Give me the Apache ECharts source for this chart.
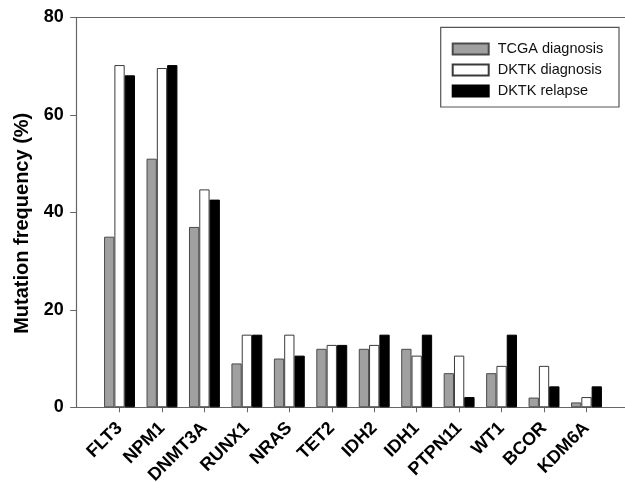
<!DOCTYPE html>
<html>
<head>
<meta charset="utf-8">
<script src="https://cdn.jsdelivr.net/npm/echarts@6/dist/echarts.min.js"></script>
<style>
html,body{margin:0;padding:0;background:#fff;}
#chart{width:625px;height:482px;}
</style>
</head>
<body>
<div id="chart"></div>
<script>
var genes = ['FLT3','NPM1','DNMT3A','RUNX1','NRAS','TET2','IDH2','IDH1','PTPN11','WT1','BCOR','KDM6A'];
var tcgaDiagnosis = [35, 51, 37, 9, 10, 12, 12, 12, 7, 7, 2, 1];
var dktkDiagnosis = [70.2, 69.6, 44.7, 14.9, 14.9, 12.8, 12.8, 10.6, 10.6, 8.5, 8.5, 2.1];
var dktkRelapse = [68.1, 70.2, 42.6, 14.9, 10.6, 12.8, 14.9, 14.9, 2.1, 14.9, 4.3, 4.3];
var yTicks = [0, 20, 40, 60, 80];
var seriesNames = ['TCGA diagnosis', 'DKTK diagnosis', 'DKTK relapse'];

var font = '"Liberation Sans", Arial, Helvetica, sans-serif';
var axisColor = '#666';
var chart = echarts.init(document.getElementById('chart'));
var gridTop = 17.3, gridBottom = 74.7;
var bw = 10.3;
function barSeries(name, data, fill, border) {
  return {
    name: name, type: 'bar', data: data,
    xAxisIndex: 2, yAxisIndex: 1,
    barWidth: bw, barGap: '0%',
    itemStyle: {color: fill, borderColor: border, borderWidth: 1},
    emphasis: {disabled: true}
  };
}
chart.setOption({
  animation: false,
  textStyle: {fontFamily: font},
  grid: [
    {left: 76.7, right: 0, top: gridTop, bottom: gridBottom, containLabel: false, outerBoundsMode: 'none'},
    {left: 98.3, right: 17.3, top: gridTop, bottom: gridBottom, containLabel: false, outerBoundsMode: 'none'}
  ],
  xAxis: [
    {type: 'value', gridIndex: 0, min: 0, max: 1, position: 'bottom',
     axisLine: {show: true, lineStyle: {color: axisColor, width: 1.2}},
     axisTick: {show: false}, axisLabel: {show: false}, splitLine: {show: false}},
    {type: 'value', gridIndex: 0, min: 0, max: 1, position: 'top',
     axisLine: {show: true, lineStyle: {color: axisColor, width: 1.2}},
     axisTick: {show: false}, axisLabel: {show: false}, splitLine: {show: false}},
    {type: 'category', gridIndex: 1, data: genes,
     axisLine: {show: false},
     axisTick: {show: true, alignWithLabel: true, length: 5, lineStyle: {color: axisColor}},
     axisLabel: {rotate: 45, interval: 0, margin: 18, fontSize: 18, fontWeight: 'bold', color: '#000', fontFamily: font},
     splitLine: {show: false}}
  ],
  yAxis: [
    {type: 'value', gridIndex: 0, min: 0, max: 80, interval: 20,
     axisLine: {show: true, lineStyle: {color: axisColor, width: 1.2}},
     axisTick: {show: true, inside: false, length: 6.5, lineStyle: {color: axisColor}},
     axisLabel: {margin: 13, fontSize: 18, fontWeight: 'bold', color: '#000', fontFamily: font,
       formatter: function (v) { return yTicks.indexOf(v) >= 0 ? String(v) : ''; }},
     splitLine: {show: false},
     name: 'Mutation frequency (%)', nameLocation: 'middle', nameGap: 44,
     nameTextStyle: {fontSize: 20, fontWeight: 'bold', color: '#000', fontFamily: font, padding: [0, 22, 0, 0]}},
    {type: 'value', gridIndex: 1, min: 0, max: 80, interval: 20, show: false,
     splitLine: {show: false}}
  ],
  legend: {
    data: seriesNames, orient: 'vertical', left: 451.7, top: 41.5, padding: 0,
    icon: 'rect',
    itemWidth: 36, itemHeight: 11, itemGap: 6,
    textStyle: {fontSize: 14.5, color: '#111', fontFamily: font, padding: [0, 0, 0, 4]},
    selectedMode: false
  },
  graphic: [
    {type: 'rect', shape: {x: 440.7, y: 27.3, width: 178.3, height: 79.7},
     style: {fill: 'none', stroke: '#555', lineWidth: 1.2}, z: 100, silent: true}
  ],
  series: [
    barSeries(seriesNames[0], tcgaDiagnosis, '#a0a0a0', '#4a4a4a'),
    barSeries(seriesNames[1], dktkDiagnosis, '#ffffff', '#3a3a3a'),
    barSeries(seriesNames[2], dktkRelapse, '#000000', '#000000')
  ]
});
</script>
</body>
</html>
